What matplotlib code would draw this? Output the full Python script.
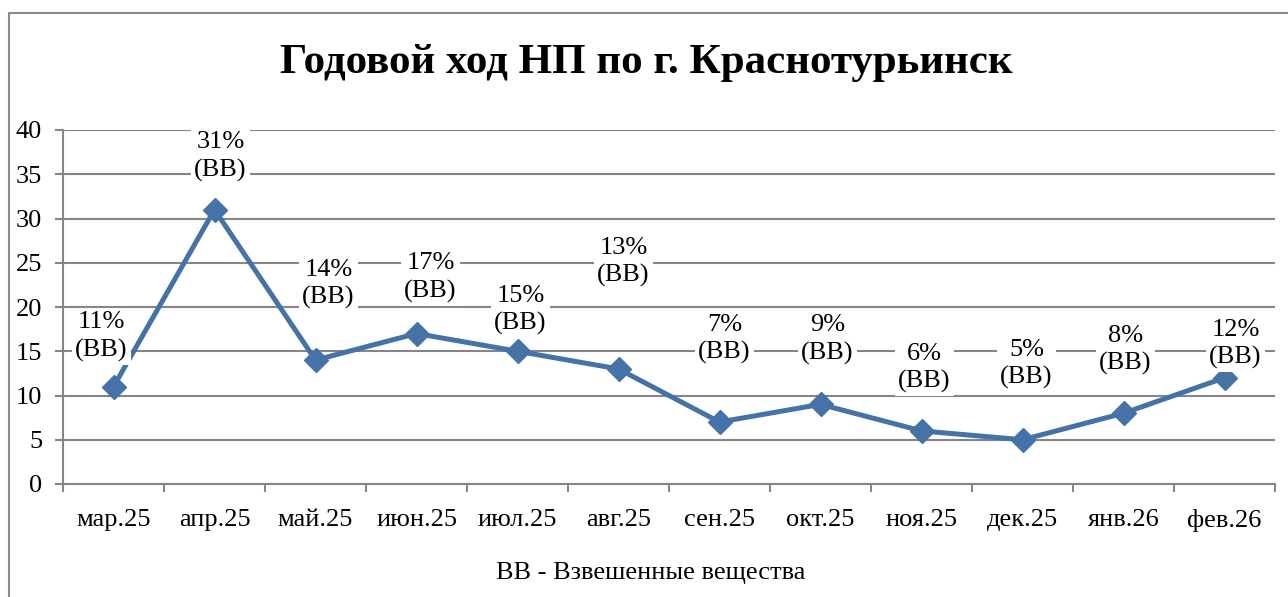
import matplotlib
matplotlib.use("Agg")
import matplotlib.pyplot as plt
from matplotlib.patches import Rectangle

months = ["мар.25", "апр.25", "май.25", "июн.25", "июл.25", "авг.25",
          "сен.25", "окт.25", "ноя.25", "дек.25", "янв.26", "фев.26"]
values = [11, 31, 14, 17, 15, 13, 7, 9, 6, 5, 8, 12]
labels = ["11%\n(ВВ)", "31%\n(ВВ)", "14%\n(ВВ)", "17%\n(ВВ)", "15%\n(ВВ)", "13%\n(ВВ)",
          "7%\n(ВВ)", "9%\n(ВВ)", "6%\n(ВВ)", "5%\n(ВВ)", "8%\n(ВВ)", "12%\n(ВВ)"]
title = "Годовой ход НП по г. Краснотурьинск"
footnote = "ВВ - Взвешенные вещества"

# label offsets in pixels (layout only)
label_dx = [-12, 6, 13, 14, 3, 5, 5, 7, 3, 4, 2, 11]
label_dy = [50, 53, 76, 56, 41, 107, 83, 65, 63, 76, 63, 34]

plt.rcParams['font.family'] = ['Liberation Serif', 'DejaVu Serif']

W, H = 1288, 597
fig = plt.figure(figsize=(W / 100, H / 100), dpi=100)
fig.patch.set_facecolor("white")

ax = fig.add_axes([63 / W, 1 - 484 / H, (1275 - 63) / W, (484 - 130) / H])

line_color = "#4572A7"
grid_color = "#868686"
fs = 19
x = list(range(len(months)))
ax.plot(x, values, color=line_color, lw=3.6, marker="D", ms=12,
        markerfacecolor=line_color, markeredgecolor=line_color, zorder=3,
        solid_joinstyle="miter")

ax.set_xlim(-0.5, len(months) - 0.5)
ax.set_ylim(0, 40)
ax.set_yticks(range(0, 41, 5))
ax.yaxis.grid(True, color=grid_color, lw=1.5)
ax.set_axisbelow(True)

ax.set_xticks(x)
ax.set_xticklabels(months, fontsize=fs)
ax.set_xticks([i - 0.5 for i in range(len(months) + 1)], minor=True)
ax.tick_params(axis="x", which="major", length=0, pad=18)
ax.tick_params(axis="x", which="minor", length=6, width=1.5, color=grid_color)
ax.tick_params(axis="y", length=6, width=1.5, color=grid_color, labelsize=fs, pad=9)

for s in ["top", "right"]:
    ax.spines[s].set_visible(False)
for s in ["left", "bottom"]:
    ax.spines[s].set_color(grid_color)
    ax.spines[s].set_linewidth(1.5)

for xi, v, lab, dx, dy in zip(x, values, labels, label_dx, label_dy):
    ax.annotate(lab, (xi, v), xytext=(dx, dy), textcoords="offset pixels",
                ha="center", va="center", fontsize=fs, linespacing=1.3,
                bbox=dict(boxstyle="square,pad=0.12", fc="white", ec="none"),
                zorder=4)

fig.text(646 / W, 1 - 63 / H, title, ha="center", va="center",
         fontsize=31, fontweight="bold")
fig.text(651 / W, 1 - 573 / H, footnote, ha="center", va="center", fontsize=19)

fig.patches.append(Rectangle((9 / W, -0.1), 1.2, 1 - 13 / H + 0.1,
                             transform=fig.transFigure, fill=False,
                             ec="#8a8a8a", lw=1.5, zorder=0))

fig.savefig("out.png", dpi=100)
